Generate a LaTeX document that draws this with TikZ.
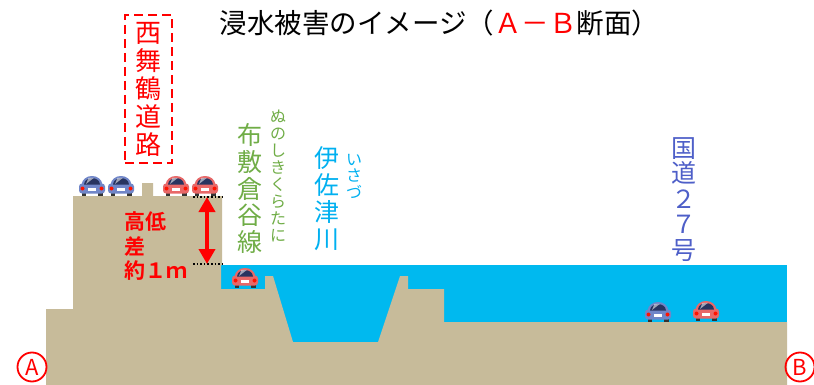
\documentclass[tikz,border=0pt]{standalone}
\usepackage{fontspec}
\setmainfont{Noto Sans CJK JP}[BoldFont={Noto Sans CJK JP Bold}]
\usepackage{tikz}
\usetikzlibrary{
    arrows.meta,
    positioning
}

\definecolor{ground}{RGB}{199,187,154}
\definecolor{water}{RGB}{0,185,239}
\definecolor{rivertext}{RGB}{0,176,240}
\definecolor{linegreen}{RGB}{112,173,71}
\definecolor{roadblue}{RGB}{78,95,200}
\definecolor{carblue}{RGB}{112,134,200}
\definecolor{carred}{RGB}{232,104,104}
\definecolor{glass}{RGB}{40,52,96}

\begin{document}
\begin{tikzpicture}[
x=1pt, y=-1pt,
vtext/.style={
inner sep=0pt,
align=center
},
circled/.style={
draw=red,
line width=1.8pt,
circle,
minimum size=29pt,
inner sep=0pt,
text=red,
font=\fontsize{22}{22}\selectfont
},
pics/car/.style={
code={
\fill[black!80] (-10.5,0) rectangle (-6,-4);
\fill[black!80] (6,0) rectangle (10.5,-4);
\fill[#1] (-10.5,-11) .. controls (-9.5,-23) and (9.5,-23) .. (10.5,-11) -- cycle;
\fill[#1, rounded corners=3pt] (-13,-2.5) rectangle (13,-12.5);
\fill[glass] (-8,-11.5) .. controls (-7.5,-20) and (7.5,-20) .. (8,-11.5) -- cycle;
\fill[white, opacity=0.55] (-3.5,-18.2) -- (2,-18.2) -- (-6,-12) -- cycle;
\fill[red!85!orange] (-9.5,-7.5) circle (2);
\fill[red!85!orange] (9.5,-7.5) circle (2);
\fill[white] (-4,-5.5) rectangle (4,-8.5);
}
}
]

\useasboundingbox (0,0) rectangle (814,385);

\fill[water] (221,265) rectangle (787,385);
\fill[ground] (46,385) -- (46,309) -- (73,309) -- (73,196)
-- (142,196) -- (142,183) -- (153,183) -- (153,196)
-- (222,196) -- (222,265) -- (221,265) -- (221,289)
-- (265,289) -- (265,276) -- (273,276) -- (293,342)
-- (378,342) -- (400,276) -- (408,276) -- (408,289)
-- (444,289) -- (444,322) -- (787,322) -- (787,385) -- cycle;

\pic (car1) at (92,196) {car=carblue};
\pic (car2) at (121,196) {car=carblue};
\pic (car3) at (176,196) {car=carred};
\pic (car4) at (205,196) {car=carred};
\pic (car5) at (245,288) {car=carred};
\pic (car6) at (658,322) {car=carblue};
\pic (car7) at (706,321) {car=carred};

\node[font=\fontsize{27.5}{30}\selectfont] (title) at (439.5,23)
{浸水被害のイメージ（\textcolor{red}{Ａ－Ｂ}断面）};

\node[vtext, text=red, draw=red, line width=1.8pt,
dash pattern=on 9pt off 5pt,
minimum width=47pt, minimum height=148pt,
font=\fontsize{26}{28}\selectfont] (nishi) at (148.5,89)
{西\\舞\\鶴\\道\\路};

\node[vtext, text=linegreen, font=\fontsize{25}{26.6}\selectfont]
(nunoshiki) at (250,188.5) {布\\敷\\倉\\谷\\線};
\node[vtext, text=linegreen, font=\fontsize{16}{17}\selectfont]
(nunoRuby) at (278,175.5) {ぬ\\の\\し\\き\\く\\ら\\た\\に};

\node[vtext, text=rivertext, font=\fontsize{25}{27}\selectfont]
(isazu) at (327,199) {伊\\佐\\津\\川};
\node[vtext, text=rivertext, font=\fontsize{16}{16.5}\selectfont]
(isazuRuby) at (354,176) {い\\さ\\づ};

\node[vtext, text=roadblue, font=\fontsize{25}{25.5}\selectfont]
(route) at (684,199.5) {国\\道\\２\\７\\号};

\node[anchor=west, inner sep=0pt, align=left, text=red,
font=\bfseries\fontsize{21}{24.5}\selectfont] (diff) at (124,246.5)
{高低\\差\\約１ｍ};

\coordinate (topL) at (193,197);
\coordinate (topR) at (222,197);
\coordinate (botL) at (193,264);
\coordinate (botR) at (222,264);
\coordinate (levelTop) at (207,197);
\coordinate (levelBot) at (207,264);

\draw[dotted, line width=1.6pt] (topL) -- (topR);
\draw[dotted, line width=1.6pt] (botL) -- (botR);

\draw[red, line width=4pt,
{Triangle[width=16pt,length=15pt]}-{Triangle[width=16pt,length=15pt]}]
(levelTop) -- (levelBot);

\node[circled] (ptA) at (32,367) {A};
\node[circled] (ptB) at (800,367) {B};

\end{tikzpicture}
\end{document}
